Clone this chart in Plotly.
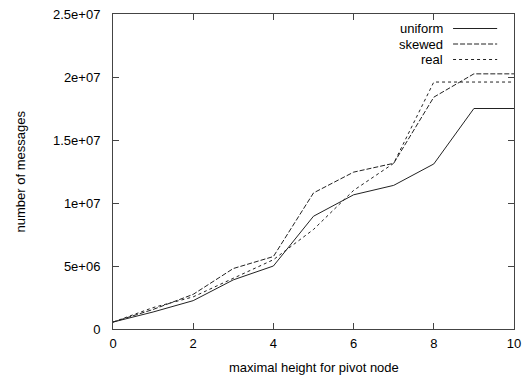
import plotly.graph_objects as go

heights = [0, 1, 2, 3, 4, 5, 6, 7, 8, 9, 10]
uniform = [0.55e6, 1.35e6, 2.25e6, 3.9e6, 5.0e6, 8.95e6, 10.65e6, 11.4e6, 13.1e6, 17.5e6, 17.5e6]
skewed = [0.55e6, 1.55e6, 2.75e6, 4.8e6, 5.75e6, 10.8e6, 12.45e6, 13.15e6, 18.4e6, 20.25e6, 20.25e6]
real = [0.55e6, 1.7e6, 2.55e6, 4.0e6, 5.5e6, 7.9e6, 11.0e6, 13.15e6, 19.6e6, 19.6e6, 19.6e6]

series_names = ["uniform", "skewed", "real"]
series_values = [uniform, skewed, real]
series_dash = ["solid", "5px,2px", "3px,3px"]

x_ticks = [0, 2, 4, 6, 8, 10]
y_ticks = [0, 5e6, 1e7, 1.5e7, 2e7, 2.5e7]
y_tick_labels = ["0", "5e+06", "1e+07", "1.5e+07", "2e+07", "2.5e+07"]

FONT = "Liberation Sans, Arial, sans-serif"

fig = go.Figure()
for name, vals, dash in zip(series_names, series_values, series_dash):
    fig.add_trace(go.Scatter(x=heights, y=vals, mode="lines", name=name,
                             line=dict(color="#222", width=1, dash=dash),
                             showlegend=False))

# gnuplot-style legend: right-aligned text with line sample on the right
for i, (name, dash) in enumerate(zip(series_names, series_dash)):
    yshift = -14.5 - i * 15.5
    fig.add_annotation(x=0.827, y=1, xref="paper", yref="paper", text=name,
                       showarrow=False, xanchor="right", yanchor="middle", yshift=yshift,
                       font=dict(family=FONT, size=13, color="#000"))
    yy = 1 - (14.5 + i * 15.5) / 315
    fig.add_shape(type="line", xref="paper", yref="paper",
                  x0=0.848, x1=0.958, y0=yy, y1=yy,
                  line=dict(color="#222", width=1, dash=dash))

# axis titles
fig.add_annotation(x=0.5, y=0, xref="paper", yref="paper", text="maximal height for pivot node",
                   showarrow=False, xanchor="center", yanchor="middle", yshift=-38,
                   font=dict(family=FONT, size=13, color="#000"))
fig.add_annotation(x=0, y=0.5, xref="paper", yref="paper", text="number of messages",
                   showarrow=False, xanchor="center", yanchor="middle", xshift=-93,
                   textangle=-90, font=dict(family=FONT, size=13, color="#000"))

axis_common = dict(showgrid=False, zeroline=False, showline=True, linecolor="#444",
                   linewidth=1, mirror="ticks", ticks="inside", ticklen=6, automargin=False,
                   tickcolor="#444", tickfont=dict(family=FONT, size=13, color="#000"))

fig.update_xaxes(range=[0, 10], tickvals=x_ticks, ticklabelstandoff=2, **axis_common)
fig.update_yaxes(range=[0, 2.5e7], tickvals=y_ticks, ticktext=y_tick_labels,
                 ticklabelstandoff=9, **axis_common)

fig.update_layout(width=524, height=375, margin=dict(l=113, r=10, t=14, b=46),
                  plot_bgcolor="white", paper_bgcolor="white",
                  font=dict(family=FONT, size=13, color="#000"))

fig.write_html("out.html", config={"displayModeBar": False},
               post_script="document.body.style.margin='0';document.body.style.overflow='hidden';")
